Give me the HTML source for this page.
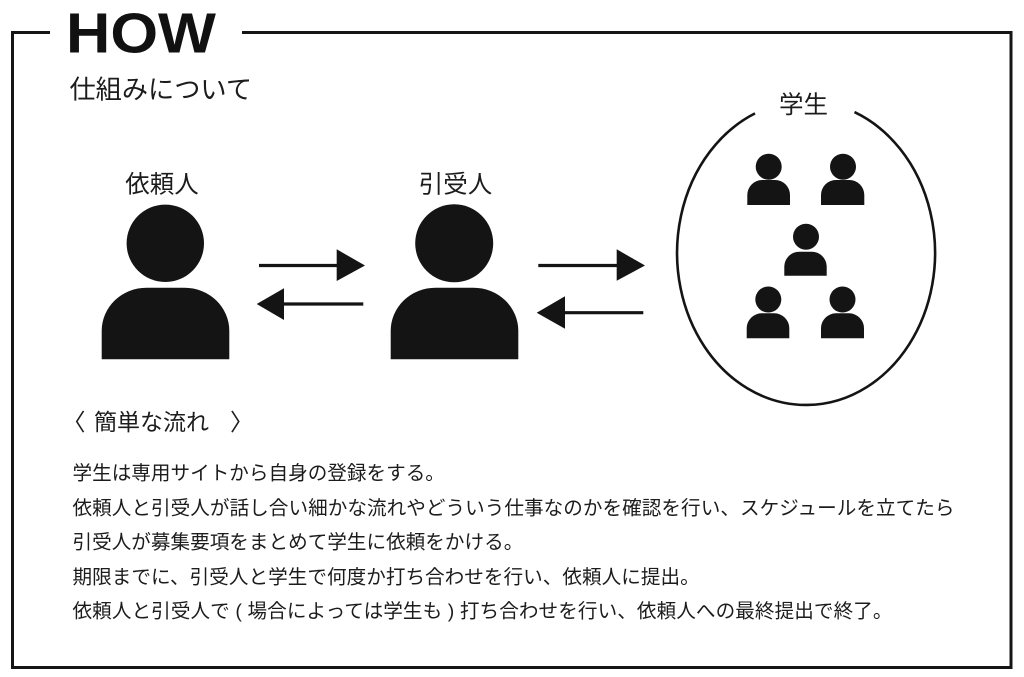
<!DOCTYPE html>
<html>
<head>
<meta charset="utf-8">
<style>
  html, body { margin: 0; padding: 0; background: #ffffff; }
  body { width: 1024px; height: 677px; overflow: hidden; }
  svg { display: block; }
  .jp { font-family: "Liberation Sans", "Noto Sans CJK JP", sans-serif; fill: #1c1c1c; }
</style>
</head>
<body>
<svg width="1024" height="677" viewBox="0 0 1024 677" xmlns="http://www.w3.org/2000/svg">
  <rect x="0" y="0" width="1024" height="677" fill="#ffffff"/>

  <!-- Frame -->
  <rect x="12.5" y="32.5" width="998.5" height="635" fill="none" stroke="#151515" stroke-width="3"/>
  <rect x="50" y="26" width="192" height="14" fill="#ffffff"/>

  <!-- Title -->
  <text x="66" y="52.3" font-family="'Liberation Sans', sans-serif" font-weight="bold" font-size="57" fill="#111" textLength="150" lengthAdjust="spacingAndGlyphs">HOW</text>
  <text class="jp" x="69.5" y="98.6" font-size="26.2">仕組みについて</text>

  <!-- Labels -->
  <text class="jp" x="162" y="192.3" font-size="24.5" text-anchor="middle">依頼人</text>
  <text class="jp" x="455.5" y="192.3" font-size="24.5" text-anchor="middle">引受人</text>
  <text class="jp" x="803.5" y="113" font-size="24.5" text-anchor="middle">学生</text>

  <!-- Person 1 -->
  <g fill="#141414">
    <circle cx="165.3" cy="243.3" r="38.7"/>
    <path d="M101.7 359.3 V331 A45 43 0 0 1 146.7 287.7 H184.3 A45 43 0 0 1 229.3 331 V359.3 Z"/>
  </g>
  <!-- Person 2 -->
  <g fill="#141414">
    <circle cx="454.2" cy="243.3" r="39"/>
    <path d="M390.7 359.3 V331 A45 43 0 0 1 435.7 287.7 H473.3 A45 43 0 0 1 518.3 331 V359.3 Z"/>
  </g>

  <!-- Arrows -->
  <g stroke="#141414" stroke-width="3.2" fill="none">
    <line x1="259" y1="265.5" x2="338" y2="265.5"/>
    <line x1="283" y1="304" x2="363.3" y2="304"/>
    <line x1="538.3" y1="265.5" x2="618" y2="265.5"/>
    <line x1="564" y1="312.7" x2="643.3" y2="312.7"/>
  </g>
  <g fill="#141414">
    <polygon points="336.7,249.3 365,265.5 336.7,281"/>
    <polygon points="256.7,304 284,288.3 284,320"/>
    <polygon points="616.7,249.3 645,265.5 616.7,280.7"/>
    <polygon points="536.7,312.7 565,296.3 565,328.7"/>
  </g>

  <!-- Ellipse with gap -->
  <path d="M755 113.4 A129 152 0 1 0 854.5 112.1" fill="none" stroke="#141414" stroke-width="2.6"/>

  <!-- Small persons -->
  <g fill="#141414">
    <circle cx="768.7" cy="166.7" r="13"/>
    <path d="M747.3 205 V195 A15 15 0 0 1 762.3 180 H775 A15 15 0 0 1 790 195 V205 Z"/>
    <circle cx="843" cy="166.7" r="13"/>
    <path d="M821 205 V195 A15 15 0 0 1 836 180 H849.3 A15 15 0 0 1 864.3 195 V205 Z"/>
    <circle cx="806" cy="236.7" r="13"/>
    <path d="M784.3 275.7 V266 A15 15 0 0 1 799.3 251.7 H811.7 A15 15 0 0 1 826.7 266 V275.7 Z"/>
    <circle cx="768.3" cy="299.5" r="13"/>
    <path d="M746.7 338.3 V328.3 A15 15 0 0 1 761.7 313.3 H774.3 A15 15 0 0 1 789.3 328.3 V338.3 Z"/>
    <circle cx="842.5" cy="299.5" r="13"/>
    <path d="M821 338.3 V328.3 A15 15 0 0 1 836 313.3 H849 A15 15 0 0 1 864 328.3 V338.3 Z"/>
  </g>

  <!-- Section heading -->
  <text class="jp" x="62" y="430.5" font-size="23.5">〈</text>
  <text class="jp" x="94" y="430.2" font-size="23">簡単な流れ</text>
  <text class="jp" x="230" y="430.5" font-size="23.5">〉</text>

  <!-- Body lines -->
  <text class="jp" x="72.5" y="479.4" font-size="19.6" textLength="372.4" lengthAdjust="spacing">学生は専用サイトから自身の登録をする。</text>
  <text class="jp" x="72.5" y="514.4" font-size="19.6" textLength="882" lengthAdjust="spacing">依頼人と引受人が話し合い細かな流れやどういう仕事なのかを確認を行い、スケジュールを立てたら</text>
  <text class="jp" x="72.5" y="548.4" font-size="19.6" textLength="450.8" lengthAdjust="spacing">引受人が募集要項をまとめて学生に依頼をかける。</text>
  <text class="jp" x="72.5" y="583.4" font-size="19.6" textLength="627.2" lengthAdjust="spacing">期限までに、引受人と学生で何度か打ち合わせを行い、依頼人に提出。</text>
  <text class="jp" x="72.5" y="617.4" font-size="19.6" textLength="820" lengthAdjust="spacing" xml:space="preserve">依頼人と引受人で ( 場合によっては学生も ) 打ち合わせを行い、依頼人への最終提出で終了。</text>
</svg>
</body>
</html>
